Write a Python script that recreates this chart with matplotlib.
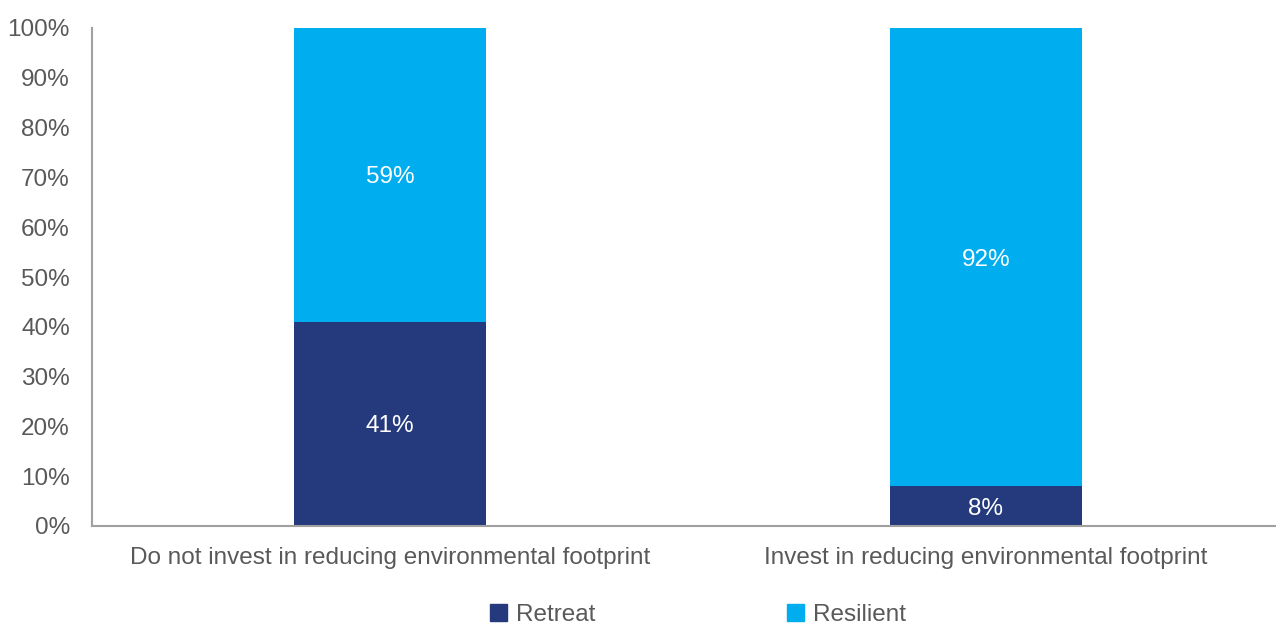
import matplotlib.pyplot as plt
from matplotlib.patches import Patch

plt.rcParams['font.family'] = ['Liberation Sans', 'DejaVu Sans']

categories = ['Do not invest in reducing environmental footprint',
              'Invest in reducing environmental footprint']
retreat = [41, 8]
resilient = [59, 92]
yticks = list(range(0, 101, 10))

navy = '#253A7D'
sky = '#00AEEF'
grey = '#595959'
fs = 17.5

fig = plt.figure(figsize=(12.76, 6.28), dpi=100)
ax = fig.add_axes([92 / 1276, 1 - 526 / 628, 1184 / 1276, 498 / 628])

x = range(len(categories))
ax.bar(x, retreat, width=0.322, color=navy)
ax.bar(x, resilient, width=0.322, bottom=retreat, color=sky)

for i in x:
    ax.text(i, retreat[i] / 2, f'{retreat[i]}%', ha='center', va='center_baseline',
            color='white', fontsize=fs)
    ax.text(i, retreat[i] + resilient[i] / 2, f'{resilient[i]}%', ha='center',
            va='center_baseline', color='white', fontsize=fs)

ax.set_xlim(-0.5, 1.487)
ax.set_ylim(0, 100)
ax.set_yticks(yticks)
ax.set_yticklabels([f'{t}%' for t in yticks])
ax.set_xticks(list(x))
ax.set_xticklabels(categories)
ax.tick_params(length=0, labelsize=fs, colors=grey)
ax.tick_params(axis='y', pad=16)
ax.tick_params(axis='x', pad=15)
for s in ['top', 'right']:
    ax.spines[s].set_visible(False)
for s in ['left', 'bottom']:
    ax.spines[s].set_color('#A0A0A0')
    ax.spines[s].set_linewidth(1.5)

handles = [Patch(color=navy, label='Retreat'), Patch(color=sky, label='Resilient')]
fig.legend(handles=handles, loc='center', bbox_to_anchor=(0.547, 1 - 615 / 628),
           ncol=2, frameon=False, fontsize=fs, labelcolor=grey,
           handlelength=0.7, handleheight=0.7, handletextpad=0.35, columnspacing=7.9,
           borderpad=0.2)

fig.savefig('out.png', dpi=100)
